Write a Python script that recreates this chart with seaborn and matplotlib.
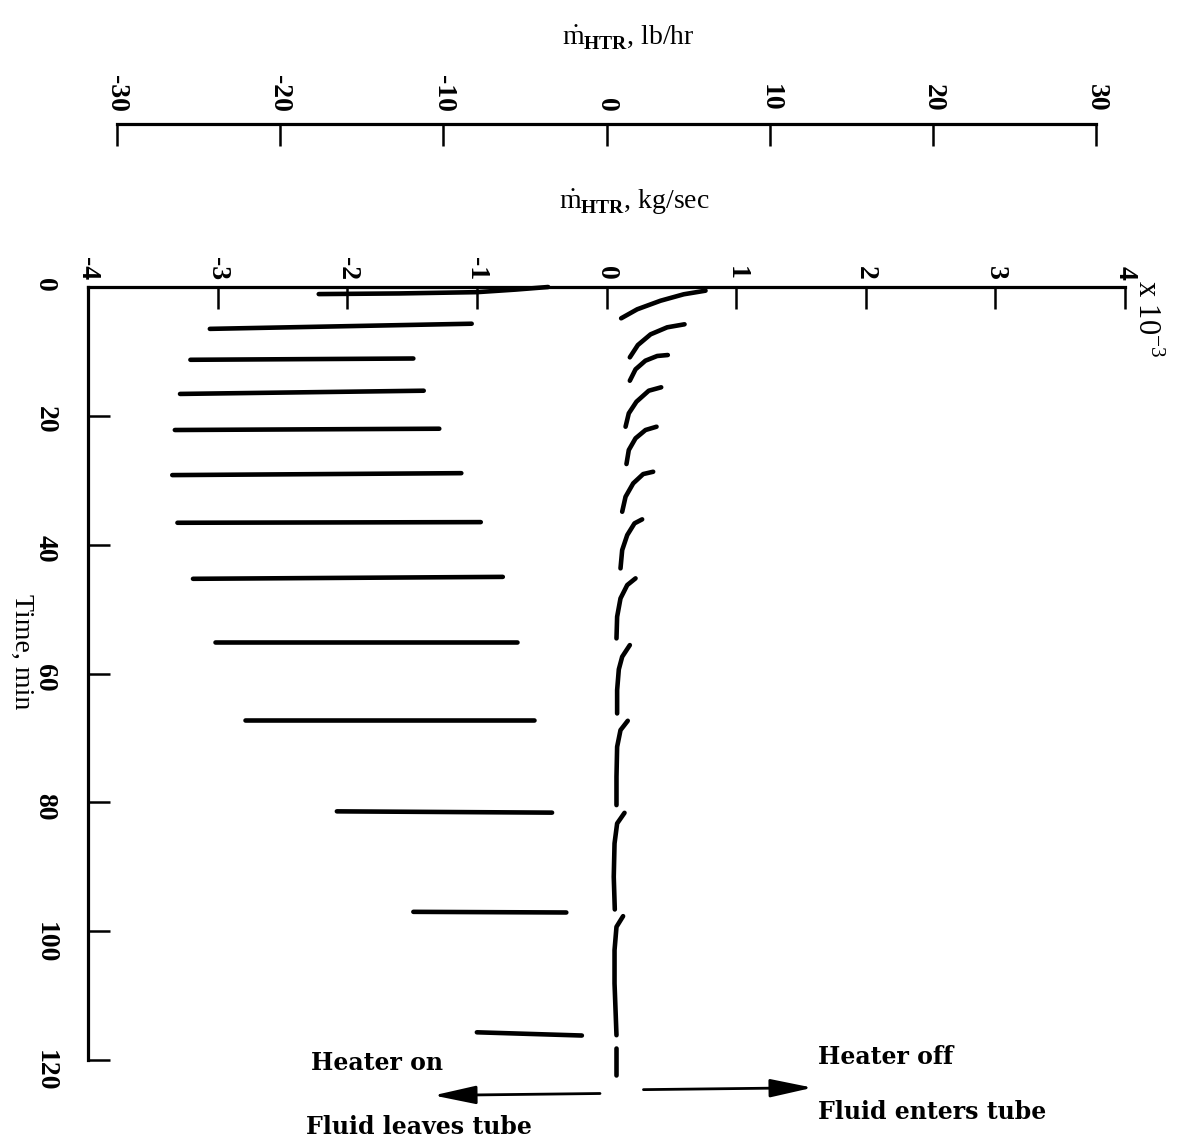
import matplotlib
matplotlib.use("Agg")
import numpy as np
import pandas as pd
import matplotlib.pyplot as plt
import seaborn as sns

# ---------------- data ----------------
# heater-on segments (fluid leaves tube), kg/sec x 1e-3 vs time (min)
on_x_start = [-3.06, -3.21, -3.29, -3.33, -3.35, -3.31, -3.19, -3.02, -2.79, -2.08, -1.49, -1.00]
on_x_end = [-1.04, -1.49, -1.41, -1.29, -1.12, -0.97, -0.80, -0.69, -0.56, -0.42, -0.31, -0.19]
on_t_start = [6.5, 11.3, 16.6, 22.2, 29.2, 36.6, 45.3, 55.1, 67.2, 81.4, 97.0, 115.7]
on_t_end = [5.7, 11.1, 16.1, 22.0, 28.9, 36.5, 45.0, 55.1, 67.2, 81.6, 97.1, 116.2]

# initial heater-on transient
first_x = [-2.22, -1.60, -1.00, -0.70, -0.45]
first_t = [1.1, 1.0, 0.8, 0.4, 0.0]

# heater-off arcs (fluid enters tube)
off_x = [
    [0.113, 0.237, 0.417, 0.596, 0.764],
    [0.180, 0.242, 0.340, 0.468, 0.602],
    [0.180, 0.224, 0.300, 0.391, 0.473],
    [0.147, 0.172, 0.231, 0.326, 0.422],
    [0.154, 0.172, 0.224, 0.301, 0.386],
    [0.121, 0.147, 0.206, 0.283, 0.360],
    [0.108, 0.121, 0.160, 0.216, 0.275],
    [0.077, 0.082, 0.108, 0.160, 0.224],
    [0.082, 0.082, 0.095, 0.121, 0.180],
    [0.077, 0.077, 0.082, 0.108, 0.164],
    [0.064, 0.056, 0.062, 0.082, 0.139],
    [0.077, 0.062, 0.062, 0.077, 0.128],
    [0.077, 0.077],
]
off_t = [
    [4.86, 3.46, 2.13, 1.13, 0.57],
    [10.92, 9.01, 7.35, 6.26, 5.79],
    [14.55, 12.78, 11.44, 10.71, 10.56],
    [21.69, 19.61, 17.81, 16.10, 15.57],
    [27.48, 25.31, 23.49, 22.20, 21.69],
    [34.89, 32.56, 30.48, 29.04, 28.68],
    [43.68, 40.84, 38.51, 36.69, 36.07],
    [54.55, 51.19, 48.34, 46.27, 45.23],
    [66.20, 62.58, 59.36, 57.40, 55.59],
    [80.43, 76.04, 71.38, 68.79, 67.34],
    [96.63, 91.57, 86.38, 83.28, 81.63],
    [116.15, 108.12, 102.95, 99.33, 97.67],
    [122.4, 118.2],
]

x_ticks = [-4, -3, -2, -1, 0, 1, 2, 3, 4]
t_ticks = [0, 20, 40, 60, 80, 100, 120]
lbhr_ticks = [-30, -20, -10, 0, 10, 20, 30]
LBHR_TO_KGS_E3 = 0.125998  # 1 lb/hr in kg/sec x 1e-3

# ---------------- build long-form table ----------------
rows = []
seg = 0
for xs, xe, ts, te in zip(on_x_start, on_x_end, on_t_start, on_t_end):
    rows += [(seg, 0, xs, ts), (seg, 1, xe, te)]
    seg += 1
for i, (xv, tv) in enumerate(zip(first_x, first_t)):
    rows.append((seg, i, xv, tv))
seg += 1
for xs, ts in zip(off_x, off_t):
    for i, (xv, tv) in enumerate(zip(xs, ts)):
        rows.append((seg, i, xv, tv))
    seg += 1
df = pd.DataFrame(rows, columns=["seg", "order", "x", "t"])

# ---------------- style ----------------
sns.set_theme(style="white")
plt.rcParams["font.family"] = ["Liberation Serif", "DejaVu Serif"]
plt.rcParams["axes.unicode_minus"] = False
plt.rcParams["text.color"] = "black"
plt.rcParams["mathtext.fontset"] = "custom"
plt.rcParams["mathtext.rm"] = "Liberation Serif"
plt.rcParams["mathtext.bf"] = "Liberation Serif:bold"

W, H = 1183, 1146
fig = plt.figure(figsize=(W / 100, H / 100), dpi=100)
fig.patch.set_facecolor("white")

left_px, right_px, top_px, bot_px = 88, 1125, 287, 1060
ax = fig.add_axes([left_px / W, 1 - bot_px / H, (right_px - left_px) / W, (bot_px - top_px) / H])
ax.set_facecolor("white")

sns.lineplot(data=df, x="x", y="t", units="seg", estimator=None, sort=False,
             color="black", linewidth=3.3, legend=False, ax=ax,
             solid_capstyle="round", solid_joinstyle="round")
for ln in ax.lines:
    ln.set_clip_on(False)

ax.set_xlim(-4, 4)
ax.set_ylim(120, 0)
ax.set_xlabel("")
ax.set_ylabel("")
for s in ["right", "bottom"]:
    ax.spines[s].set_visible(False)
for s in ["top", "left"]:
    ax.spines[s].set_visible(True)
    ax.spines[s].set_color("black")
    ax.spines[s].set_linewidth(2.3)

ax.set_xticks(x_ticks)
ax.set_yticks(t_ticks)
ax.xaxis.set_ticks_position("top")
ax.yaxis.set_ticks_position("left")
ax.tick_params(axis="x", direction="in", length=16, width=1.8, pad=5,
               labelsize=20, labelrotation=-90, colors="black")
ax.tick_params(axis="y", direction="in", length=16, width=1.8, pad=22,
               labelsize=20, labelrotation=-90, colors="black")
for lab in ax.get_xticklabels() + ax.get_yticklabels():
    lab.set_fontweight("bold")

# ---------------- top lb/hr scale ----------------
line_px = 124
ax2 = fig.add_axes([left_px / W, 1 - (line_px + 30) / H, (right_px - left_px) / W, 30 / H])
ax2.patch.set_visible(False)
ax2.set_xlim(-4 / LBHR_TO_KGS_E3, 4 / LBHR_TO_KGS_E3)
ax2.set_ylim(0, 1)
for s in ["right", "bottom", "left"]:
    ax2.spines[s].set_visible(False)
ax2.spines["top"].set_visible(True)
ax2.spines["top"].set_color("black")
ax2.spines["top"].set_linewidth(2.3)
ax2.spines["top"].set_bounds(-30, 30)
ax2.set_yticks([])
ax2.set_xticks(lbhr_ticks)
ax2.xaxis.set_ticks_position("top")
ax2.tick_params(axis="x", direction="in", length=16, width=1.8, pad=9,
                labelsize=20, labelrotation=-90, colors="black")
for lab in ax2.get_xticklabels():
    lab.set_fontweight("bold")

# ---------------- labels ----------------
fig.text(628 / W, 1 - 38 / H, r"$\dot{\mathrm{m}}_{\mathbf{HTR}}$, lb/hr",
         ha="center", va="center", fontsize=20, color="black")
fig.text(634 / W, 1 - 202 / H, r"$\dot{\mathrm{m}}_{\mathbf{HTR}}$, kg/sec",
         ha="center", va="center", fontsize=20, color="black")
fig.text(22 / W, 1 - 652 / H, "Time, min", rotation=-90, ha="center",
         va="center", fontsize=20, color="black")
fig.text(1146 / W, 1 - 280 / H, r"x $10^{-3}$", rotation=-90, ha="center",
         va="top", fontsize=22, color="black")

# arrows and notes
arrow_kw = dict(arrowstyle="-|>,head_length=1.3,head_width=0.28", color="black",
                lw=2.0, shrinkA=0, shrinkB=0, mutation_scale=20)
ax.annotate("", xy=(-1.335, 125.5), xytext=(-0.05, 125.2), arrowprops=arrow_kw,
            annotation_clip=False)
ax.annotate("", xy=(1.59, 124.3), xytext=(0.285, 124.6), arrowprops=arrow_kw,
            annotation_clip=False)

note_kw = dict(fontsize=17, fontweight="bold", family="DejaVu Serif",
               va="center", ha="left", clip_on=False, color="black")
ax.text(-2.28, 120.5, "Heater on", **note_kw)
ax.text(-2.32, 130.4, "Fluid leaves tube", **note_kw)
ax.text(1.63, 119.6, "Heater off", **note_kw)
ax.text(1.63, 128.1, "Fluid enters tube", **note_kw)

fig.savefig("out.png", dpi=100, facecolor="white")
